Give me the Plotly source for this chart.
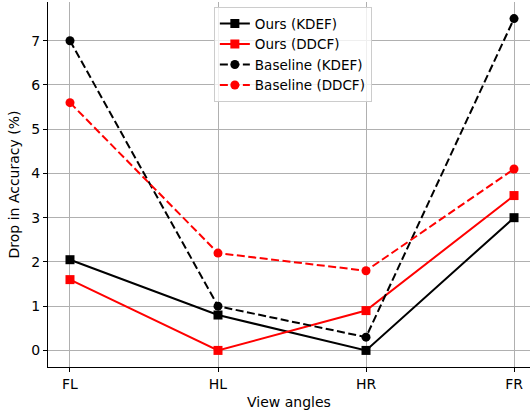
import plotly.graph_objects as go

angles = ["FL", "HL", "HR", "FR"]
ours_kdef = [2.05, 0.8, 0.0, 3.0]
ours_ddcf = [1.6, 0.0, 0.9, 3.5]
base_kdef = [7.0, 1.0, 0.3, 7.5]
base_ddcf = [5.6, 2.2, 1.8, 4.1]

series = [
    ("Ours (KDEF)", ours_kdef, "black", "solid", "square"),
    ("Ours (DDCF)", ours_ddcf, "red", "solid", "square"),
    ("Baseline (KDEF)", base_kdef, "black", "8px,3.5px", "circle"),
    ("Baseline (DDCF)", base_ddcf, "red", "8px,3.5px", "circle"),
]

fig = go.Figure()
for name, vals, col, dash, sym in series:
    fig.add_trace(go.Scatter(
        x=angles, y=vals, name=name, mode="lines+markers",
        line=dict(color=col, width=2, dash=dash),
        marker=dict(symbol=sym, size=9, color=col),
    ))

font = dict(family="DejaVu Sans", size=14, color="black")
fig.update_layout(
    width=530, height=415,
    margin=dict(l=48, r=0, t=2, b=48),
    plot_bgcolor="white", paper_bgcolor="white",
    font=font,
    showlegend=True,
    legend=dict(
        x=0.508, y=0.986, xanchor="center", yanchor="top",
        bgcolor="rgba(255,255,255,0.8)", bordercolor="#cccccc", borderwidth=1,
        font=dict(family="DejaVu Sans", size=13.5, color="black"),
        itemwidth=30, tracegroupgap=0,
    ),
)
fig.update_xaxes(
    type="category", range=[-0.1486, 3.108],
    showgrid=True, gridcolor="#b0b0b0", gridwidth=1,
    showline=True, linecolor="black", linewidth=1,
    ticks="outside", ticklen=4, tickcolor="black",
    title=dict(text="View angles", font=font, standoff=6),
    zeroline=False,
)
fig.update_yaxes(
    range=[-0.375, 7.875], tickvals=[0, 1, 2, 3, 4, 5, 6, 7],
    showgrid=True, gridcolor="#b0b0b0", gridwidth=1,
    showline=True, linecolor="black", linewidth=1,
    ticks="outside", ticklen=4, tickcolor="black",
    title=dict(text="Drop in Accuracy (%)", font=font, standoff=8),
    zeroline=False,
)
fig.write_html(
    "out.html",
    config={"displayModeBar": False},
    post_script="document.body.style.margin='0';document.body.style.overflow='hidden';",
)
